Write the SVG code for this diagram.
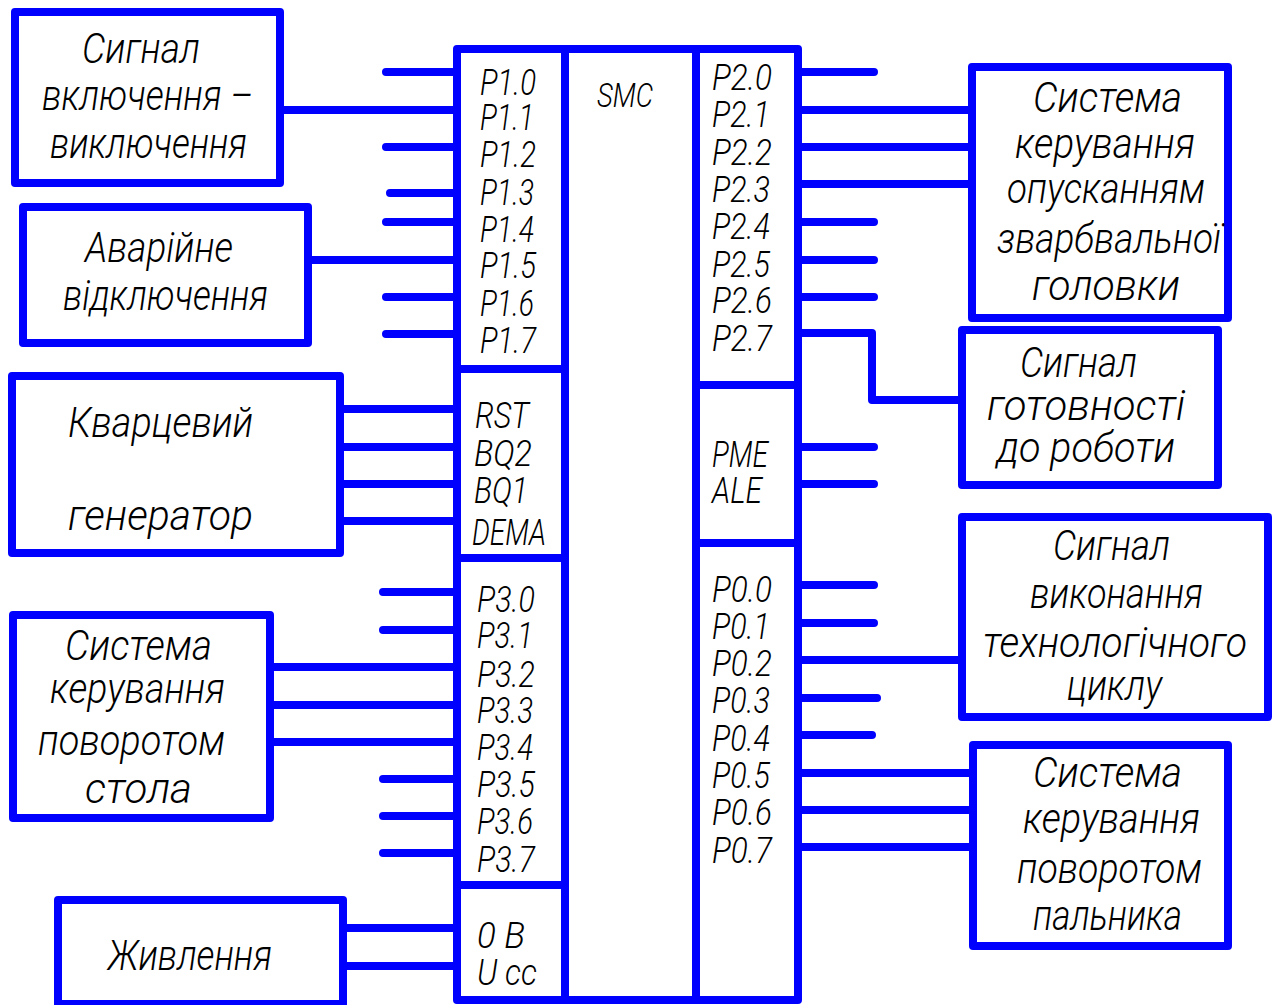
<svg xmlns="http://www.w3.org/2000/svg" width="1278" height="1005" viewBox="0 0 1278 1005">
<style>
.b{fill:#fff;stroke:#0000ff;stroke-width:8;stroke-linejoin:round}
.w{stroke:#0000ff;stroke-width:8;fill:none;stroke-linecap:round;stroke-linejoin:round}
.c{stroke:#0000ff;stroke-width:8;fill:none;stroke-linecap:butt;stroke-linejoin:round}
text{font-family:Roboto,"DejaVu Sans",sans-serif;font-style:italic;font-weight:300;fill:#000}
.L{font-size:42px}
.p{font-size:36px}
</style>
<rect width="1278" height="1005" fill="#fff"/>

<g id="connectors">
  <path class="w" d="M386 72H457M386 147H457M390 193H457M386 222H457M386 297H457M386 334H457"/>
  <path class="c" d="M280 110H457M308 260H457"/>
  <path class="c" d="M340 409H457M340 447H457M340 484H457M340 521H457"/>
  <path class="w" d="M383 592H457M383 630H457M383 779H457M383 816H457M383 853H457"/>
  <path class="c" d="M270 667H457M270 705H457M270 742H457"/>
  <path class="c" d="M343 928H457M343 966H457"/>
  <path class="w" d="M798 72H874M798 222H874M798 260H874M798 297H874"/>
  <path class="c" d="M798 110H972M798 147H972M798 184H972"/>
  <path class="c" d="M798 333H872V400H962"/>
  <path class="w" d="M798 447H874M798 484H874"/>
  <path class="w" d="M798 585H874M798 623H874M798 698H877M798 735H872"/>
  <path class="c" d="M798 660H962M798 773H973M798 810H973M798 847H973"/>
</g>

<g id="chip">
  <rect class="b" x="457" y="49" width="341" height="951"/>
  <path class="c" d="M565 49V1000M696 49V1000M457 369H565M457 558H565M457 885H565M696 385H798M696 543H798"/>
  <text x="597" y="107" textLength="56" lengthAdjust="spacingAndGlyphs" font-size="34">SMC</text>
  <g class="p">
    <text x="480" y="95" textLength="56" lengthAdjust="spacingAndGlyphs">P1.0</text>
    <text x="480" y="130" textLength="54" lengthAdjust="spacingAndGlyphs">P1.1</text>
    <text x="480" y="167" textLength="56" lengthAdjust="spacingAndGlyphs">P1.2</text>
    <text x="480" y="205" textLength="54" lengthAdjust="spacingAndGlyphs">P1.3</text>
    <text x="480" y="242" textLength="54" lengthAdjust="spacingAndGlyphs">P1.4</text>
    <text x="480" y="278" textLength="56" lengthAdjust="spacingAndGlyphs">P1.5</text>
    <text x="480" y="316" textLength="54" lengthAdjust="spacingAndGlyphs">P1.6</text>
    <text x="480" y="353" textLength="56" lengthAdjust="spacingAndGlyphs">P1.7</text>
    <text x="475" y="428" textLength="54" lengthAdjust="spacingAndGlyphs">RST</text>
    <text x="474" y="466" textLength="58" lengthAdjust="spacingAndGlyphs">BQ2</text>
    <text x="474" y="503" textLength="54" lengthAdjust="spacingAndGlyphs">BQ1</text>
    <text x="472" y="545" textLength="74" lengthAdjust="spacingAndGlyphs">DEMA</text>
    <text x="477" y="612" textLength="58" lengthAdjust="spacingAndGlyphs">P3.0</text>
    <text x="477" y="648" textLength="56" lengthAdjust="spacingAndGlyphs">P3.1</text>
    <text x="477" y="687" textLength="58" lengthAdjust="spacingAndGlyphs">P3.2</text>
    <text x="477" y="723" textLength="56" lengthAdjust="spacingAndGlyphs">P3.3</text>
    <text x="477" y="760" textLength="56" lengthAdjust="spacingAndGlyphs">P3.4</text>
    <text x="477" y="797" textLength="58" lengthAdjust="spacingAndGlyphs">P3.5</text>
    <text x="477" y="834" textLength="56" lengthAdjust="spacingAndGlyphs">P3.6</text>
    <text x="477" y="872" textLength="58" lengthAdjust="spacingAndGlyphs">P3.7</text>
    <text x="477" y="948" textLength="48" lengthAdjust="spacingAndGlyphs">0 В</text>
    <text x="477" y="985" textLength="60" lengthAdjust="spacingAndGlyphs">U cc</text>
    <text x="712" y="90" textLength="60" lengthAdjust="spacingAndGlyphs">P2.0</text>
    <text x="712" y="127" textLength="58" lengthAdjust="spacingAndGlyphs">P2.1</text>
    <text x="712" y="165" textLength="60" lengthAdjust="spacingAndGlyphs">P2.2</text>
    <text x="712" y="202" textLength="58" lengthAdjust="spacingAndGlyphs">P2.3</text>
    <text x="712" y="239" textLength="58" lengthAdjust="spacingAndGlyphs">P2.4</text>
    <text x="712" y="277" textLength="58" lengthAdjust="spacingAndGlyphs">P2.5</text>
    <text x="712" y="313" textLength="60" lengthAdjust="spacingAndGlyphs">P2.6</text>
    <text x="712" y="351" textLength="60" lengthAdjust="spacingAndGlyphs">P2.7</text>
    <text x="712" y="467" textLength="56" lengthAdjust="spacingAndGlyphs">PME</text>
    <text x="712" y="503" textLength="50" lengthAdjust="spacingAndGlyphs">ALE</text>
    <text x="712" y="602" textLength="60" lengthAdjust="spacingAndGlyphs">P0.0</text>
    <text x="712" y="639" textLength="58" lengthAdjust="spacingAndGlyphs">P0.1</text>
    <text x="712" y="676" textLength="60" lengthAdjust="spacingAndGlyphs">P0.2</text>
    <text x="712" y="713" textLength="58" lengthAdjust="spacingAndGlyphs">P0.3</text>
    <text x="712" y="751" textLength="58" lengthAdjust="spacingAndGlyphs">P0.4</text>
    <text x="712" y="788" textLength="58" lengthAdjust="spacingAndGlyphs">P0.5</text>
    <text x="712" y="825" textLength="60" lengthAdjust="spacingAndGlyphs">P0.6</text>
    <text x="712" y="863" textLength="60" lengthAdjust="spacingAndGlyphs">P0.7</text>
  </g>
</g>

<g id="box-on-off">
  <rect class="b" x="15" y="12" width="265" height="171"/>
  <text class="L" x="82" y="63" textLength="118" lengthAdjust="spacingAndGlyphs">Сигнал</text>
  <text class="L" x="42" y="110" textLength="211" lengthAdjust="spacingAndGlyphs">включення –</text>
  <text class="L" x="50" y="158" textLength="197" lengthAdjust="spacingAndGlyphs">виключення</text>
</g>

<g id="box-emergency">
  <rect class="b" x="23" y="207" width="285" height="136"/>
  <text class="L" x="85" y="262" textLength="148" lengthAdjust="spacingAndGlyphs">Аварійне</text>
  <text class="L" x="63" y="310" textLength="205" lengthAdjust="spacingAndGlyphs">відключення</text>
</g>

<g id="box-crystal">
  <rect class="b" x="12" y="376" width="328" height="177"/>
  <text class="L" x="68" y="437" textLength="185" lengthAdjust="spacingAndGlyphs">Кварцевий</text>
  <text class="L" x="68" y="530" textLength="185" lengthAdjust="spacingAndGlyphs">генератор</text>
</g>

<g id="box-table">
  <rect class="b" x="13" y="615" width="257" height="203"/>
  <text class="L" x="65" y="660" textLength="147" lengthAdjust="spacingAndGlyphs">Система</text>
  <text class="L" x="50" y="703" textLength="175" lengthAdjust="spacingAndGlyphs">керування</text>
  <text class="L" x="38" y="755" textLength="187" lengthAdjust="spacingAndGlyphs">поворотом</text>
  <text class="L" x="85" y="803" textLength="107" lengthAdjust="spacingAndGlyphs">стола</text>
</g>

<g id="box-power">
  <rect class="b" x="58" y="900" width="285" height="104"/>
  <text class="L" x="108" y="970" textLength="164" lengthAdjust="spacingAndGlyphs">Живлення</text>
</g>

<g id="box-head">
  <rect class="b" x="972" y="67" width="256" height="251"/>
  <text class="L" x="1033" y="112" textLength="149" lengthAdjust="spacingAndGlyphs">Система</text>
  <text class="L" x="1015" y="158" textLength="180" lengthAdjust="spacingAndGlyphs">керування</text>
  <text class="L" x="1007" y="203" textLength="198" lengthAdjust="spacingAndGlyphs">опусканням</text>
  <text class="L" x="997" y="253" textLength="224" lengthAdjust="spacingAndGlyphs">зварбвальної</text>
  <text class="L" x="1032" y="300" textLength="148" lengthAdjust="spacingAndGlyphs">головки</text>
</g>

<g id="box-ready">
  <rect class="b" x="962" y="330" width="256" height="155"/>
  <text class="L" x="1020" y="377" textLength="117" lengthAdjust="spacingAndGlyphs">Сигнал</text>
  <text class="L" x="987" y="420" textLength="198" lengthAdjust="spacingAndGlyphs">готовності</text>
  <text class="L" x="997" y="462" textLength="178" lengthAdjust="spacingAndGlyphs">до роботи</text>
</g>

<g id="box-cycle">
  <rect class="b" x="962" y="517" width="306" height="200"/>
  <text class="L" x="1053" y="560" textLength="117" lengthAdjust="spacingAndGlyphs">Сигнал</text>
  <text class="L" x="1030" y="608" textLength="173" lengthAdjust="spacingAndGlyphs">виконання</text>
  <text class="L" x="983" y="657" textLength="264" lengthAdjust="spacingAndGlyphs">технологічного</text>
  <text class="L" x="1067" y="700" textLength="95" lengthAdjust="spacingAndGlyphs">циклу</text>
</g>

<g id="box-torch">
  <rect class="b" x="973" y="745" width="255" height="201"/>
  <text class="L" x="1033" y="787" textLength="149" lengthAdjust="spacingAndGlyphs">Система</text>
  <text class="L" x="1023" y="833" textLength="177" lengthAdjust="spacingAndGlyphs">керування</text>
  <text class="L" x="1017" y="883" textLength="185" lengthAdjust="spacingAndGlyphs">поворотом</text>
  <text class="L" x="1033" y="930" textLength="149" lengthAdjust="spacingAndGlyphs">пальника</text>
</g>
</svg>
